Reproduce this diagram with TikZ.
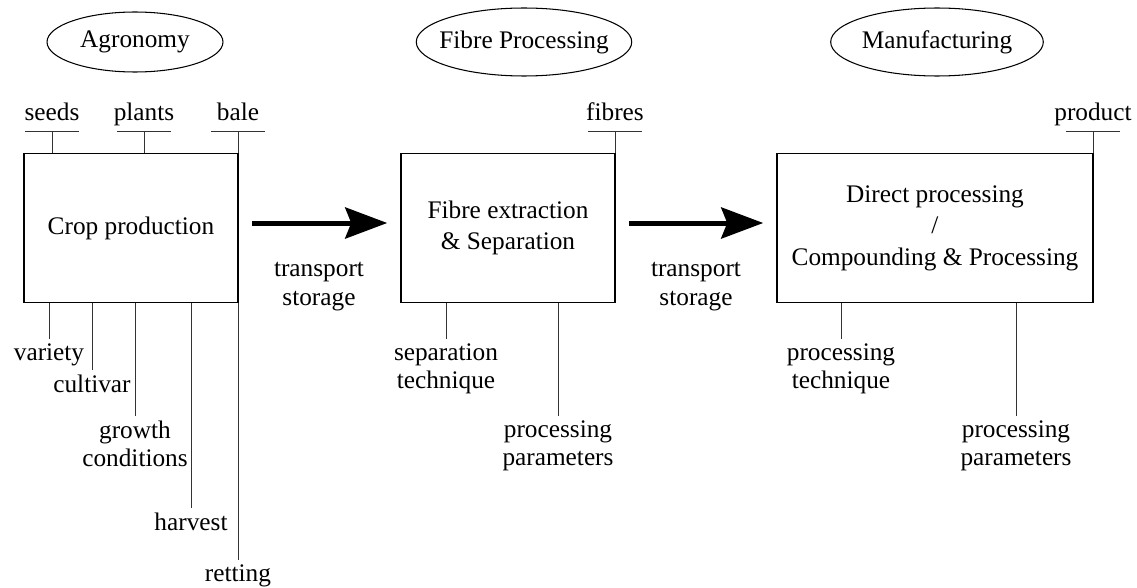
\documentclass[tikz,border=0pt]{standalone}
\usepackage{fontspec}
\setmainfont{Liberation Serif}
\usetikzlibrary{arrows.meta,shapes.geometric}

\begin{document}
\begin{tikzpicture}[x=0.02cm, y=-0.02cm, font=\fontsize{14.4}{16}\selectfont]
    % Define styles
    \tikzstyle{phase} = [ellipse, draw=black, line width=0.6pt, inner sep=0pt, minimum height=1.2cm]
    \tikzstyle{stage} = [rectangle, draw=black, line width=0.9pt, minimum height=2.98cm, align=center, font=\fontsize{14.4}{18}\selectfont]
    \tikzstyle{output} = [anchor=base, inner sep=0pt]
    \tikzstyle{factor} = [anchor=north, align=center, inner sep=2.5pt]
    \tikzstyle{linkline} = [line width=0.5pt, black!80]
    \tikzstyle{flow} = [line width=0.1cm, -{Stealth[length=0.84cm, width=0.62cm, inset=0.12cm]}, shorten <=0.26cm, shorten >=0.26cm]

    \useasboundingbox (0,0) rectangle (1137,588);

    % Phases on top
    \node (agro) [phase, minimum width=3.52cm] at (135,42) {Agronomy};
    \node (fibproc) [phase, inner xsep=-0.17cm, minimum width=4.3cm, minimum height=1.36cm] at (524,42) {Fibre Processing};
    \node (manuf) [phase, minimum width=4.24cm, minimum height=1.36cm] at (937,42) {Manufacturing};

    % Process stages
    \node (crop) [stage, minimum width=4.28cm] at (131,228) {Crop production};
    \node (extract) [stage, minimum width=4.28cm] at (508,228) {Fibre extraction\\\& Separation};
    \node (process) [stage, minimum width=6.32cm] at (935,228) {Direct processing\\/\\Compounding \& Processing};

    % Flow between stages
    \draw [flow] ([yshift=0.1cm]crop.east) -- ([yshift=0.1cm]extract.west);
    \draw [flow] ([yshift=0.1cm]extract.east) -- ([yshift=0.1cm]process.west);
    \node (trans1) [factor] at (319,258) {transport\\storage};
    \node (trans2) [factor] at (696,258) {transport\\storage};

    % Outputs above the stages
    \node (seeds) [output] at (52,121) {seeds};
    \node (plants) [output] at (144,121) {plants};
    \node (bale) [output] at (238,121) {bale};
    \node (fibres) [output] at (615,121) {fibres};
    \node (product) [output] at (1093,121) {product};

    \draw [linkline] ([xshift=-0.54cm, yshift=-0.2cm]seeds.base) -- ([xshift=0.54cm, yshift=-0.2cm]seeds.base);
    \draw [linkline] ([yshift=-0.2cm]seeds.base) -- (seeds.base |- crop.north);
    \draw [linkline] ([xshift=-0.54cm, yshift=-0.2cm]plants.base) -- ([xshift=0.54cm, yshift=-0.2cm]plants.base);
    \draw [linkline] ([yshift=-0.2cm]plants.base) -- (plants.base |- crop.north);
    \draw [linkline] ([xshift=-0.54cm, yshift=-0.2cm]bale.base) -- ([xshift=0.54cm, yshift=-0.2cm]bale.base);
    \draw [linkline] ([yshift=-0.2cm]bale.base) -- (bale.base |- crop.north);
    \draw [linkline] ([xshift=-0.54cm, yshift=-0.2cm]fibres.base) -- ([xshift=0.54cm, yshift=-0.2cm]fibres.base);
    \draw [linkline] ([yshift=-0.2cm]fibres.base) -- (fibres.base |- extract.north);
    \draw [linkline] ([xshift=-0.54cm, yshift=-0.2cm]product.base) -- ([xshift=0.54cm, yshift=-0.2cm]product.base);
    \draw [linkline] ([yshift=-0.2cm]product.base) -- (product.base |- process.north);

    % Factors below the stages
    \node (variety) [factor] at (49,339) {variety};
    \node (cultivar) [factor] at (92,370) {cultivar};
    \node (growth) [factor] at (135,416) {growth\\conditions};
    \node (harvest) [factor] at (191,508) {harvest};
    \node (retting) [factor] at (238,560) {retting};
    \node (septech) [factor] at (446,339) {separation\\technique};
    \node (sepparam) [factor] at (558,416) {processing\\parameters};
    \node (proctech) [factor] at (841,339) {processing\\technique};
    \node (procparam) [factor] at (1016,416) {processing\\parameters};

    \draw [linkline] (variety.north |- crop.south) -- (variety.north);
    \draw [linkline] (cultivar.north |- crop.south) -- (cultivar.north);
    \draw [linkline] (growth.north |- crop.south) -- (growth.north);
    \draw [linkline] (harvest.north |- crop.south) -- (harvest.north);
    \draw [linkline] (retting.north |- crop.south) -- (retting.north);
    \draw [linkline] (septech.north |- extract.south) -- (septech.north);
    \draw [linkline] (sepparam.north |- extract.south) -- (sepparam.north);
    \draw [linkline] (proctech.north |- process.south) -- (proctech.north);
    \draw [linkline] (procparam.north |- process.south) -- (procparam.north);
\end{tikzpicture}
\end{document}
